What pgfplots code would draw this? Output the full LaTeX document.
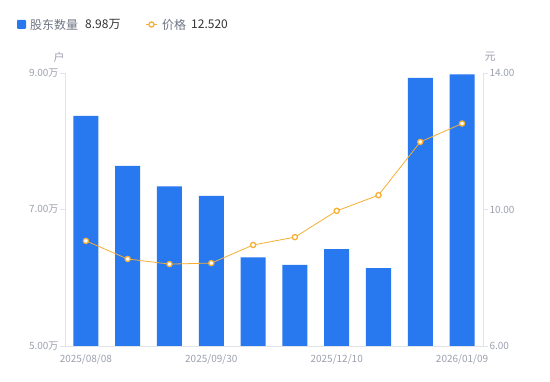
\documentclass[border=0pt]{standalone}
\usepackage{fontspec}
\setmainfont{Noto Sans CJK SC}
\usepackage{pgfplots}
\pgfplotsset{compat=1.18}
\definecolor{barblue}{HTML}{2878F0}
\definecolor{lineorange}{HTML}{F6AE35}
\definecolor{axgray}{HTML}{9CA0AE}
\definecolor{axline}{HTML}{E0E3E8}
\definecolor{legtxt}{HTML}{6E7482}
\definecolor{valtxt}{HTML}{333333}
\begin{document}
\begin{tikzpicture}
\useasboundingbox (0pt,0pt) rectangle (550pt,381pt);
% legend
\fill[barblue, rounded corners=1pt] (17pt,352pt) rectangle (26pt,361pt);
\node[anchor=west, text=legtxt, font=\fontsize{12}{14}\selectfont, inner sep=0] at (30pt,356.5pt) {股东数量};
\node[anchor=west, text=valtxt, font=\fontsize{12}{14}\selectfont, inner sep=0] at (85pt,356.5pt) {8.98万};
\draw[lineorange, line width=1pt] (146pt,356.5pt) -- (157pt,356.5pt);
\draw[lineorange, line width=1.3pt, fill=white] (151.5pt,356.5pt) circle (2.6pt);
\node[anchor=west, text=legtxt, font=\fontsize{12}{14}\selectfont, inner sep=0] at (162pt,356.5pt) {价格};
\node[anchor=west, text=valtxt, font=\fontsize{12}{14}\selectfont, inner sep=0] at (191pt,356.5pt) {12.520};
% unit labels
\node[text=axgray, font=\fontsize{11}{13}\selectfont, inner sep=0] at (59pt,324pt) {户};
\node[text=axgray, font=\fontsize{11}{13}\selectfont, inner sep=0] at (490pt,324pt) {元};
\begin{axis}[
  at={(65pt,35pt)}, anchor=south west,
  scale only axis, width=418pt, height=273pt,
  xmin=-0.5, xmax=9.5, ymin=5, ymax=9,
  axis x line*=bottom, axis y line*=left,
  axis line style={axline, line width=0.8pt},
  xtick={0,3,6,9},
  xticklabels={2025/08/08,2025/09/30,2025/12/10,2026/01/09},
  xtick style={draw=none},
  ytick={5,7,9},
  yticklabels={5.00万,7.00万,9.00万},
  tick align=outside, major tick length=5pt,
  ytick style={axline, line width=0.8pt},
  tick label style={text=axgray, font=\fontsize{10}{12}\selectfont},
  xticklabel style={yshift=0pt},
  yticklabel style={xshift=2pt},
]
\addplot[ybar, bar width=25pt, fill=barblue, draw=none, bar shift=0pt] coordinates {
(0,8.37) (1,7.64) (2,7.34) (3,7.20) (4,6.30) (5,6.19) (6,6.42) (7,6.14) (8,8.93) (9,8.98)};
\end{axis}
\begin{axis}[
  at={(65pt,35pt)}, anchor=south west,
  scale only axis, width=418pt, height=273pt,
  xmin=-0.5, xmax=9.5, ymin=6, ymax=14,
  axis x line=none, axis y line*=right,
  axis line style={axline, line width=0.8pt},
  ytick={6,10,14},
  yticklabels={6.00,10.00,14.00},
  tick align=outside, major tick length=5pt,
  ytick style={axline, line width=0.8pt},
  tick label style={text=axgray, font=\fontsize{10}{12}\selectfont},
  yticklabel style={xshift=-2pt},
  clip=false,
]
\addplot[lineorange, line width=0.8pt, mark=*, mark size=2.6pt,
  mark options={fill=white, draw=lineorange, line width=1.3pt}] coordinates {
(0,9.08) (1,8.55) (2,8.40) (3,8.43) (4,8.96) (5,9.19) (6,9.96) (7,10.42) (8,11.98) (9,12.52)};
\end{axis}
\end{tikzpicture}
\end{document}
